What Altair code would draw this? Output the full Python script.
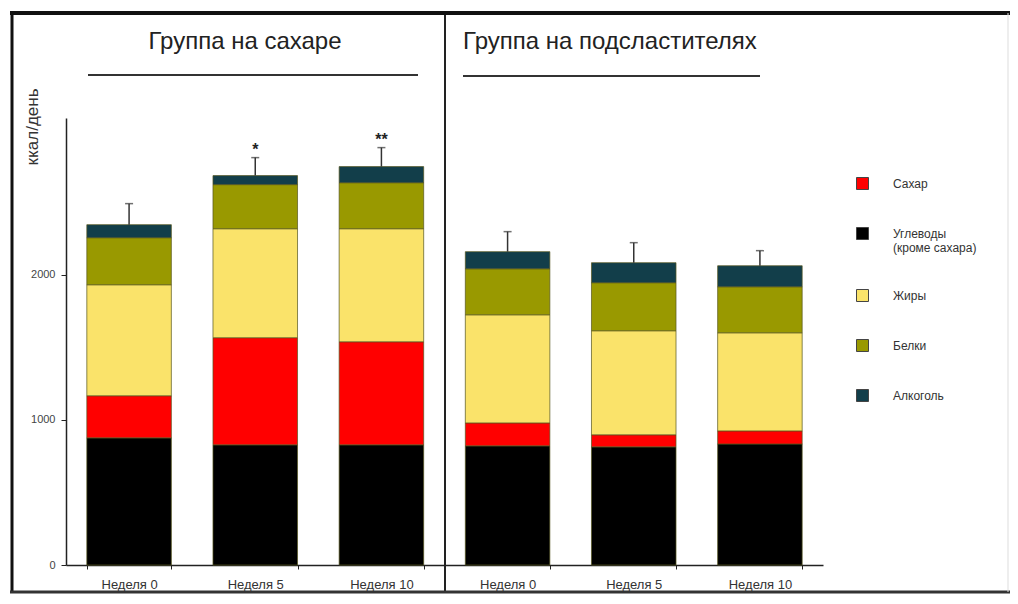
import altair as alt
import pandas as pd

groups = ["Группа на сахаре"] * 3 + ["Группа на подсластителях"] * 3
weeks = ["Неделя 0", "Неделя 5", "Неделя 10"] * 2
carbs = [876, 828, 828, 821, 814, 834]
sugar = [290, 738, 710, 158, 83, 90]
fat = [765, 751, 779, 745, 717, 676]
protein = [324, 304, 317, 317, 331, 317]
alcohol = [90, 62, 111, 118, 138, 145]
sem = [145, 124, 131, 138, 138, 104]
stars = ["", "*", "**", "", "", ""]

legend_names = ["Сахар", "Углеводы|(кроме сахара)", "Жиры", "Белки", "Алкоголь"]
legend_colors = ["#ff0000", "#000000", "#fae36a", "#999900", "#123e4a"]
stack_order = {"Углеводы|(кроме сахара)": 0, "Сахар": 1, "Жиры": 2, "Белки": 3, "Алкоголь": 4}

keys = [f"{g}|{w}" for g, w in zip(groups, weeks)]
series = {
    "Углеводы|(кроме сахара)": carbs,
    "Сахар": sugar,
    "Жиры": fat,
    "Белки": protein,
    "Алкоголь": alcohol,
}
rows = []
for name, vals in series.items():
    for k, v in zip(keys, vals):
        rows.append({"key": k, "nutrient": name, "value": v, "ord": stack_order[name]})
df = pd.DataFrame(rows)

totals = [c + s + f + p + a for c, s, f, p, a in zip(carbs, sugar, fat, protein, alcohol)]
err_df = pd.DataFrame({
    "key": keys,
    "total": totals,
    "upper": [t + e for t, e in zip(totals, sem)],
    "star": stars,
})

W, H = 757, 447
FONT = "Liberation Sans"

xenc = alt.X(
    "key:N",
    sort=keys,
    scale=alt.Scale(paddingInner=0.33, paddingOuter=0.165),
    axis=alt.Axis(
        title=None,
        labelExpr="split(datum.value, '|')[1]",
        labelAngle=0,
        tickBand="extent",
        tickSize=4,
        labelPadding=9,
        labelFontSize=13,
        labelColor="#333333",
        labelFont=FONT,
        domainColor="#222222",
        tickColor="#222222",
        domainWidth=1.5,
    ),
)
yscale = alt.Scale(domain=[0, 3080], nice=False)

bars = alt.Chart(df).mark_bar(stroke="#55551e", strokeWidth=1, strokeOpacity=0.7).encode(
    x=xenc,
    y=alt.Y(
        "value:Q",
        stack="zero",
        scale=yscale,
        axis=alt.Axis(
            values=[0, 1000, 2000],
            format="d",
            grid=False,
            title="ккал/день",
            titleAngle=270,
            titleAlign="right",
            titleBaseline="middle",
            titleX=-34,
            titleY=-30,
            titleFontSize=17,
            titleFontWeight="normal",
            titleColor="#333333",
            titleFont=FONT,
            tickSize=5,
            labelPadding=6,
            labelFontSize=11,
            labelColor="#444444",
            labelFont=FONT,
            domainColor="#222222",
            tickColor="#222222",
            domainWidth=1.5,
        ),
    ),
    color=alt.Color(
        "nutrient:N",
        scale=alt.Scale(domain=legend_names, range=legend_colors),
        legend=alt.Legend(
            title=None,
            orient="none",
            legendX=790,
            legendY=59,
            symbolType="square",
            symbolSize=144,
            symbolStrokeColor="#444444",
            symbolStrokeWidth=1,
            symbolOpacity=1,
            labelExpr="split(datum.label, '|')",
            labelFontSize=12,
            labelColor="#333333",
            labelFont=FONT,
            labelOffset=24,
            rowPadding=33,
            padding=0,
        ),
    ),
    order=alt.Order("ord:Q"),
)

err_rule = alt.Chart(err_df).mark_rule(color="#333333", strokeWidth=1.5).encode(
    x=alt.X("key:N", sort=keys), y=alt.Y("total:Q", scale=yscale), y2="upper:Q"
)
err_cap = alt.Chart(err_df).mark_tick(color="#333333", thickness=1.5, size=8).encode(
    x=alt.X("key:N", sort=keys), y=alt.Y("upper:Q", scale=yscale)
)
star_text = alt.Chart(err_df).mark_text(
    baseline="bottom", dy=0, fontSize=16, font=FONT, color="#222222", fontWeight="bold"
).encode(x=alt.X("key:N", sort=keys), y=alt.Y("upper:Q", scale=yscale), text="star:N")

title_df = pd.DataFrame({"t": ["Группа на сахаре"]})
title1 = alt.Chart(title_df).mark_text(
    fontSize=24, font=FONT, color="#222222", align="center", baseline="middle"
).encode(x=alt.value(179), y=alt.value(-76), text="t:N")
title2_df = pd.DataFrame({"t": ["Группа на подсластителях"]})
title2 = alt.Chart(title2_df).mark_text(
    fontSize=24, font=FONT, color="#222222", align="left", baseline="middle"
).encode(x=alt.value(397), y=alt.value(-76), text="t:N")

line_df = pd.DataFrame({"d": [0]})
ul1 = alt.Chart(line_df).mark_rule(color="#333333", strokeWidth=2).encode(
    x=alt.value(22), x2=alt.value(352), y=alt.value(-43)
)
ul2 = alt.Chart(line_df).mark_rule(color="#333333", strokeWidth=2).encode(
    x=alt.value(397), x2=alt.value(694), y=alt.value(-42)
)
divider = alt.Chart(line_df).mark_rule(color="#222222", strokeWidth=2).encode(
    x=alt.value(379), y=alt.value(-105), y2=alt.value(474)
)
b_top = alt.Chart(line_df).mark_rule(color="#111111", strokeWidth=4).encode(
    x=alt.value(-56), x2=alt.value(944), y=alt.value(-105)
)
b_left = alt.Chart(line_df).mark_rule(color="#111111", strokeWidth=3).encode(
    x=alt.value(-54), y=alt.value(-105), y2=alt.value(474)
)
b_bottom = alt.Chart(line_df).mark_rule(color="#333333", strokeWidth=3).encode(
    x=alt.value(-56), x2=alt.value(944), y=alt.value(474)
)
b_right = alt.Chart(line_df).mark_rule(color="#dddddd", strokeWidth=1).encode(
    x=alt.value(942), y=alt.value(-105), y2=alt.value(474)
)

chart = alt.layer(
    bars, err_rule, err_cap, star_text, title1, title2, ul1, ul2, divider,
    b_top, b_left, b_bottom, b_right
).properties(
    width=W, height=H,
    autosize=alt.AutoSizeParams(type="none"),
    padding={"left": 58, "top": 110, "right": 187, "bottom": 29},
).configure(font=FONT, background="white").configure_view(stroke=None, strokeWidth=0)

chart.save("out.html", embed_options={"renderer": "svg", "actions": False})
